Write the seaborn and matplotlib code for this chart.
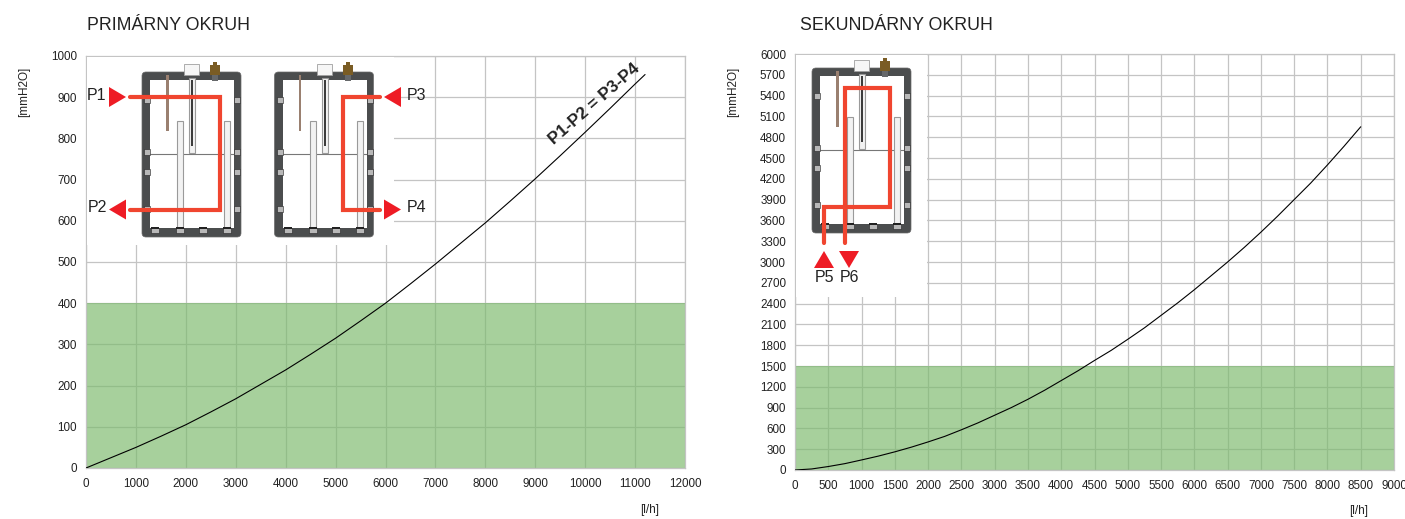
import matplotlib
matplotlib.use('Agg')
import matplotlib.pyplot as plt
from matplotlib.patches import Rectangle, FancyBboxPatch, Polygon
import seaborn as sns

# hodnoty odcitane z grafu
prim_flow = [0, 500, 1000, 1500, 2000, 2500, 3000, 3500, 4000, 4500, 5000, 5500, 6000,
             6500, 7000, 7500, 8000, 8500, 9000, 9500, 10000, 10500, 11000, 11200]
prim_head = [0, 25, 50, 77, 105, 136, 168, 203, 238, 276, 315, 357, 400,
             447, 495, 545, 595, 648, 702, 758, 815, 873, 932, 955]
prim_limit = 400
prim_xticks = list(range(0, 12001, 1000))
prim_yticks = list(range(0, 1001, 100))

sec_flow = [0, 250, 500, 750, 1000, 1250, 1500, 1750, 2000, 2250, 2500, 2750, 3000, 3250, 3500,
            3750, 4000, 4250, 4500, 4750, 5000, 5250, 5500, 5750, 6000, 6250, 6500, 6750, 7000,
            7250, 7500, 7750, 8000, 8250, 8500]
sec_head = [0, 15, 50, 92, 145, 200, 262, 330, 405, 485, 580, 680, 790, 900, 1020,
            1150, 1290, 1430, 1580, 1725, 1885, 2050, 2230, 2410, 2600, 2800, 3000, 3210, 3430,
            3660, 3900, 4140, 4400, 4670, 4950]
sec_limit = 1500
sec_xticks = list(range(0, 9001, 500))
sec_yticks = list(range(0, 6001, 300))

W, H = 1405, 519
GRID = '#c4c4c4'
GREEN = '#7dba6e'
RED_LINE = '#f0452f'
RED_TRI = '#ee1c25'
TEXT = '#222222'

sns.set_style('whitegrid')
plt.rcParams['font.family'] = ['Liberation Sans', 'DejaVu Sans']

fig = plt.figure(figsize=(W / 100, H / 100), dpi=100)


def px_axes(x0, y0, x1, y1):
    return fig.add_axes([x0 / W, 1 - y1 / H, (x1 - x0) / W, (y1 - y0) / H])


def chart(box, flow, head, limit, xticks, yticks):
    ax = px_axes(*box)
    ax.axhspan(0, limit, color=GREEN, alpha=0.68, lw=0, zorder=2.5)
    sns.lineplot(x=flow, y=head, color='black', lw=0.8, ax=ax, zorder=3)
    ax.set_xlim(xticks[0], xticks[-1])
    ax.set_ylim(yticks[0], yticks[-1])
    ax.set_xticks(xticks)
    ax.set_yticks(yticks)
    ax.grid(True, color=GRID, lw=0.9)
    ax.set_axisbelow(True)
    for s in ax.spines.values():
        s.set_color(GRID)
        s.set_linewidth(0.9)
    ax.tick_params(axis='x', length=0, pad=7.5, labelsize=8.4, labelcolor=TEXT)
    ax.tick_params(axis='y', length=0, pad=6.5, labelsize=8.4, labelcolor=TEXT)
    return ax


chart((86, 56, 685, 468), prim_flow, prim_head, prim_limit, prim_xticks, prim_yticks)
chart((795, 54, 1394, 470), sec_flow, sec_head, sec_limit, sec_xticks, sec_yticks)

# vrstva v pixeloch pre schemy a popisy
ov = fig.add_axes([0, 0, 1, 1], zorder=10)
ov.set_xlim(0, W)
ov.set_ylim(H, 0)
ov.axis('off')
ov.patch.set_alpha(0)


def rect(x0, y0, x1, y1, fc, z=2, ec='none', lw=0):
    ov.add_patch(Rectangle((x0, y0), x1 - x0, y1 - y0, fc=fc, ec=ec, lw=lw, zorder=z))


def tube(x0, y0, x1, y1):
    rect(x0, y0, x1, y1, '#f2f2f2', 3, '#9a9a9a', 0.8)


def tank(x, y):
    # x, y = lavy horny roh nadoby
    ov.add_patch(FancyBboxPatch((x + 2, y + 2), 95, 161, boxstyle='round,pad=2,rounding_size=4',
                                fc='#4b4d4e', ec='#6a6a6a', lw=0.5, zorder=2))
    rect(x + 8, y + 8, x + 92, y + 156, 'white', 2.1)
    ov.plot([x + 8, x + 92], [y + 82, y + 82], color='#777777', lw=0.8, zorder=2.2)
    tube(x + 35, y + 49, x + 41, y + 158)
    tube(x + 82, y + 49, x + 88, y + 158)
    # sonda
    tube(x + 47, y + 6, x + 53, y + 81)
    rect(x + 49, y + 8, x + 51, y + 74, '#3c3c3c', 3.2)
    rect(x + 42, y - 8, x + 57, y + 3, '#f6f6f6', 3.3, '#a0a0a0', 0.6)
    # ventil
    rect(x + 68, y - 7, x + 78, y + 3, '#7a5c24', 3.3)
    rect(x + 71, y - 10, x + 75, y - 7, '#7a5c24', 3.3)
    rect(x + 70, y + 3, x + 76, y + 9, '#66686a', 3.3)
    # tenka tyc
    rect(x + 24, y + 3, x + 26.5, y + 59, '#9a8070', 3)
    # priechodky na stenach
    for cy in (28, 80, 100, 137):
        rect(x + 2, y + cy - 3, x + 8, y + cy + 3, '#b8b8b8', 2.4, '#222222', 0.4)
        rect(x + 92, y + cy - 3, x + 98, y + cy + 3, '#b8b8b8', 2.4, '#222222', 0.4)
    for cx in (13, 38, 61, 85):
        rect(x + cx - 4, y + 156, x + cx + 4, y + 161, '#b8b8b8', 3.5, '#222222', 0.4)
        rect(x + cx - 4, y + 155, x + cx + 4, y + 157, '#222222', 3.6)


def tri(pts):
    ov.add_patch(Polygon(pts, closed=True, fc=RED_TRI, ec='none', zorder=6))


def route(xs, ys):
    ov.plot(xs, ys, color=RED_LINE, lw=3.0, solid_joinstyle='miter', solid_capstyle='round', zorder=5)


def label(x, y, s, size=11.5):
    ov.text(x, y, s, ha='center', va='center', fontsize=size, color=TEXT, zorder=7)


# zakrytie mriezky pod schemami
rect(87, 57, 394, 245, 'white', 1)
rect(796, 55, 927, 297, 'white', 1)

tank(142, 72)
tank(274.5, 72)
tank(812, 68)

route([130, 220, 220, 130], [97, 97, 209.5, 209.5])
route([380, 343, 343, 380], [97, 97, 209.5, 209.5])
route([845, 845, 890, 890, 824, 824], [243, 88, 88, 207, 207, 243])

tri([(109, 87), (126, 97), (109, 107)])
tri([(126, 199.5), (109, 209.5), (126, 219.5)])
tri([(401, 87), (384, 97), (401, 107)])
tri([(384, 199.5), (401, 209.5), (384, 219.5)])
tri([(824, 251), (814, 268), (834, 268)])
tri([(839, 251), (859, 251), (849, 268)])

label(97, 96, 'P1')
label(97, 208, 'P2')
label(417, 96, 'P3')
label(417, 208, 'P4')
label(825, 277, 'P5')
label(849.5, 278, 'P6')

ov.text(594, 104, 'P1-P2 = P3-P4', rotation=41, rotation_mode='anchor', ha='center', va='center',
        fontsize=12.3, fontweight='bold', color=TEXT, zorder=7)

ov.text(87, 26, 'PRIMÁRNY OKRUH', ha='left', va='center', fontsize=12.8, color=TEXT)
ov.text(800, 26, 'SEKUNDÁRNY OKRUH', ha='left', va='center', fontsize=12.8, color=TEXT)

for x, y, s, r in [(24, 92, '[mmH2O]', 90), (733, 92, '[mmH2O]', 90), (650, 510, '[l/h]', 0), (1359, 511, '[l/h]', 0)]:
    ov.text(x, y, s, rotation=r, ha='center', va='center', fontsize=8.5, color=TEXT)

fig.savefig('out.png', dpi=100, facecolor='white')
